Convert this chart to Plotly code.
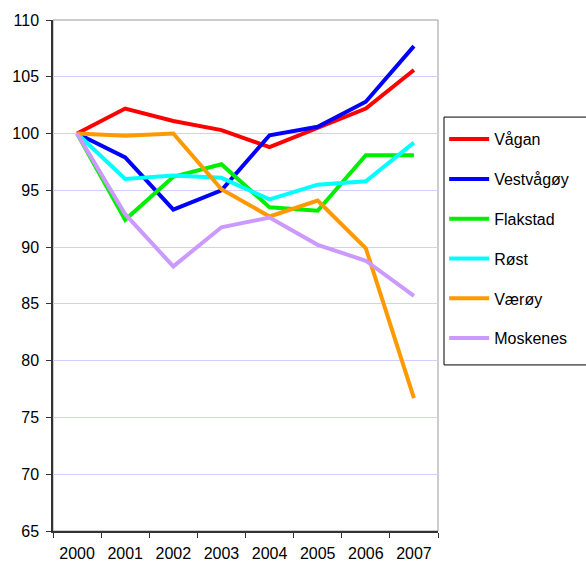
import plotly.graph_objects as go

years = ["2000", "2001", "2002", "2003", "2004", "2005", "2006", "2007"]
vagan = [100, 102.2, 101.1, 100.3, 98.8, 100.5, 102.2, 105.6]
vestvagoy = [100, 97.9, 93.3, 95.0, 99.85, 100.6, 102.8, 107.7]
flakstad = [100, 92.4, 96.2, 97.3, 93.5, 93.2, 98.1, 98.1]
rost = [100, 96.0, 96.3, 96.1, 94.2, 95.5, 95.8, 99.2]
varoy = [100, 99.8, 100.0, 95.1, 92.7, 94.1, 89.9, 76.7]
moskenes = [100, 92.9, 88.3, 91.75, 92.6, 90.2, 88.8, 85.7]

names = ["Vågan", "Vestvågøy", "Flakstad", "Røst", "Værøy", "Moskenes"]
series = [vagan, vestvagoy, flakstad, rost, varoy, moskenes]
colors = ["#ff0000", "#0000ff", "#00ee00", "#00ffff", "#ff9900", "#cc99ff"]

fig = go.Figure()
for n, s, c in zip(names, series, colors):
    fig.add_trace(go.Scatter(x=years, y=s, name=n, mode="lines",
                             line=dict(color=c, width=4), legendgroup=n))

fig.update_layout(
    width=586, height=562,
    margin=dict(l=53, r=148, t=20, b=31, autoexpand=False),
    plot_bgcolor="white", paper_bgcolor="white",
    font=dict(family="Liberation Sans, Arial, sans-serif", size=16, color="black"),
    legend=dict(x=1.016, y=0.800, xanchor="left", yanchor="top",
                borderwidth=0, bgcolor="rgba(0,0,0,0)",
                font=dict(size=16), tracegroupgap=16, itemwidth=40),
    shapes=[
        dict(type="rect", xref="paper", yref="paper", x0=0, x1=1, y0=0, y1=1,
             line=dict(color="#999999", width=1), layer="below"),
        dict(type="rect", xref="paper", yref="paper", x0=1.0156, x1=1.45,
             y0=0.325, y1=0.810, line=dict(color="#000000", width=1),
             fillcolor="white", layer="below"),
    ],
)
fig.update_xaxes(type="category", range=[-0.5, 7.5], tickson="boundaries",
                 ticks="outside", ticklen=5, tickcolor="#333333",
                 showline=True, linecolor="#333333", linewidth=1.5,
                 showgrid=False, tickfont=dict(size=16), automargin=False,
                 ticklabelstandoff=7)
fig.update_yaxes(range=[65, 110], dtick=5, ticks="outside", ticklen=5,
                 tickcolor="#333333", showline=True, linecolor="#333333",
                 linewidth=1.5, showgrid=True, gridcolor="#d0d0ff", gridwidth=1,
                 zeroline=False, tickfont=dict(size=16), automargin=False,
                 ticklabelstandoff=4)

fig.write_html("out.html", config={"displayModeBar": False},
               post_script="document.body.style.margin='0';")
